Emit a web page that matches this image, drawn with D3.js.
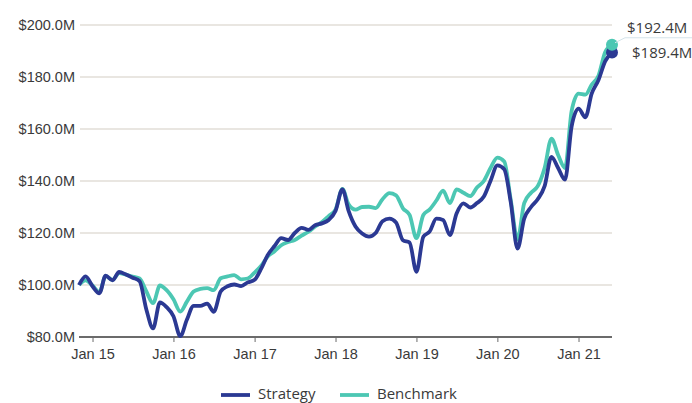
<!DOCTYPE html>
<html>
<head>
<meta charset="utf-8">
<script src="https://cdn.jsdelivr.net/npm/d3@7"></script>
<style>
  body { margin: 0; background: #fff; }
  svg { display: block; font-family: "Open Sans", sans-serif; }
  .tick text { fill: #3a3a3a; font-size: 14.5px; }
</style>
</head>
<body>
<svg width="692" height="403"></svg>
<script>
// monthly values, Nov 2014 .. Jun 2021 ($M)
const strategy = [
  100, 103.3, 99.5, 96.8, 103.6, 101.8, 105, 104, 102.8, 101.5,
  90.5, 83.3, 93.3, 91.5, 88, 80.3, 86.5, 92, 92, 92.8,
  89.7, 97.5, 99.5, 100.2, 99.6, 101, 102, 106.5, 111.5, 115,
  118, 117.3, 120, 122, 121.2, 123, 123.7, 125, 128.5, 136.8,
  128.5, 122.5, 119.8, 118.6, 120, 124.5, 125.5, 124, 117.2, 116.3,
  105.1, 118.6, 120.5, 125.5, 125, 119.2, 127.5, 131.4, 129.8, 131.5,
  134, 140, 146, 144.5, 132, 114, 125.5, 130, 133, 138,
  149.3, 145, 140.5, 161, 167.8, 164.5, 173.5, 178.8, 186, 189.4
];
const benchmark = [
  100, 101.8, 99.8, 97.3, 103.4, 102, 104.6, 104, 103.2, 102.5,
  97.5, 93, 99.8, 98, 94.5, 89.8, 93.5, 97.5, 98.5, 98.8,
  98, 102.6, 103.3, 103.8, 102.2, 102.5, 104.8, 107.5, 111, 113,
  115.3, 116.5, 117.3, 119, 120.5, 122.5, 124.2, 126.5, 129, 137,
  131, 129, 130, 130.1, 129.6, 133, 135.3, 134.5, 129.5, 127,
  118, 126.9, 129, 132.5, 136.3, 131.5, 136.8, 135.5, 134.2, 137.5,
  140, 145, 149, 147.5, 133, 117.5, 131.5, 135.5, 138, 145,
  156.3, 150, 145, 167, 173.6, 173.2, 177, 180.5, 189.5, 192.4
];
const yTicks = [80, 100, 120, 140, 160, 180, 200];
const xTicks = [2015, 2016, 2017, 2018, 2019, 2020, 2021];
const seriesNames = ["Strategy", "Benchmark"];
const seriesColors = ["#2b3993", "#4cc7b3"];

const dates = strategy.map((d, i) => new Date(2014, 10 + i, 1));

const svg = d3.select("svg");
const x = d3.scaleTime().domain([dates[0], dates[dates.length - 1]]).range([79, 612]);
const y = d3.scaleLinear().domain([80, 200]).range([337, 25]);

// grid
svg.append("g").selectAll("line")
  .data(yTicks.filter(v => v > 80))
  .join("line")
  .attr("x1", 80).attr("x2", 612)
  .attr("y1", d => y(d)).attr("y2", d => y(d))
  .attr("stroke", "#e9e6e1").attr("stroke-width", 2);

// y labels
const yAxis = svg.append("g")
  .attr("transform", "translate(79,0)")
  .call(d3.axisLeft(y).tickValues(yTicks).tickSize(0).tickPadding(4)
    .tickFormat(d => "$" + d3.format(".1f")(d) + "M"));
yAxis.select(".domain").remove();

// x axis
const xAxis = svg.append("g")
  .attr("transform", "translate(0,337)")
  .call(d3.axisBottom(x).tickValues(xTicks.map(yr => new Date(yr, 0, 1)))
    .tickSize(5).tickPadding(7)
    .tickFormat(d => "Jan " + String(d.getFullYear()).slice(2)));
xAxis.select(".domain").attr("stroke", "#6b6b6b").attr("stroke-width", 2)
  .attr("d", "M79,0H612");
xAxis.selectAll(".tick line").attr("stroke", "#6b6b6b").attr("stroke-width", 1);

const line = d3.line()
  .x((d, i) => x(dates[i]))
  .y(d => y(d))
  .curve(d3.curveMonotoneX);

const allSeries = [strategy, benchmark];
[1, 0].forEach(k => {
  svg.append("path")
    .attr("d", line(allSeries[k]))
    .attr("fill", "none")
    .attr("stroke", seriesColors[k])
    .attr("stroke-width", 3.8)
    .attr("stroke-linejoin", "round");
});

// end points
const last = dates.length - 1;
[0, 1].forEach(k => {
  svg.append("circle")
    .attr("cx", x(dates[last]))
    .attr("cy", y(allSeries[k][last]))
    .attr("r", 6)
    .attr("fill", seriesColors[k]);
});

// end labels
const ex = x(dates[last]);
svg.append("path")
  .attr("d", `M${ex + 3},${y(benchmark[last]) - 2}L${ex + 13},${y(benchmark[last]) - 7}H692`)
  .attr("fill", "none").attr("stroke", "#d4e3ea").attr("stroke-width", 1);
svg.append("text")
  .attr("x", ex + 15).attr("y", y(benchmark[last]) - 12)
  .attr("fill", "#3a3a3a").attr("font-size", 15)
  .text("$" + d3.format(".1f")(benchmark[last]) + "M");
svg.append("text")
  .attr("x", ex + 20).attr("y", y(strategy[last]) + 5)
  .attr("fill", "#3a3a3a").attr("font-size", 15)
  .text("$" + d3.format(".1f")(strategy[last]) + "M");

// legend
const legend = svg.append("g").attr("transform", "translate(0,395)");
const legendX = [221, 340];
seriesNames.forEach((name, k) => {
  const g = legend.append("g").attr("transform", `translate(${legendX[k]},0)`);
  g.append("line").attr("x1", 0).attr("x2", 29).attr("y1", 0).attr("y2", 0)
    .attr("stroke", seriesColors[k]).attr("stroke-width", 3.8);
  g.append("text").attr("x", 37).attr("y", 4)
    .attr("fill", "#3a3a3a").attr("font-size", 15).text(name);
});
</script>
</body>
</html>
